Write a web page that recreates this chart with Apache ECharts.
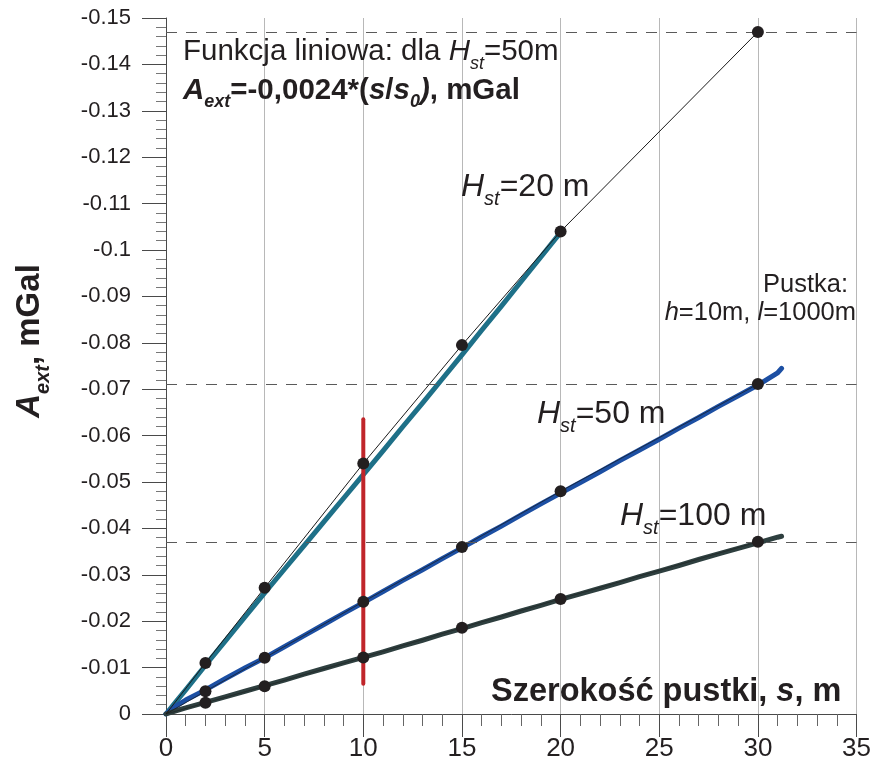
<!DOCTYPE html>
<html><head><meta charset="utf-8">
<script src="https://cdn.jsdelivr.net/npm/echarts@6/dist/echarts.min.js"></script>
<style>html,body{margin:0;padding:0;background:#fff}#c{width:874px;height:776px}</style>
</head><body><div id="c"></div>
<script>
// ---- data ----
const dotS = [2, 5, 10, 15, 20, 30];
const dotsH20 = [-0.011, -0.0272, -0.054, -0.0795, -0.104, -0.147];
const dotsH50 = [-0.0049, -0.0121, -0.0242, -0.036, -0.048, -0.0711];
const dotsH100 = [-0.0024, -0.006, -0.0122, -0.0186, -0.0248, -0.0371];

const curveS20 = [0, 0.5, 1, 2, 3, 4, 5, 6, 7, 8, 9, 10, 11, 12, 13, 14, 15, 16, 17, 18, 19, 20];
const curveH20 = [0, -0.0026, -0.0052, -0.0105, -0.0157, -0.0209, -0.0261, -0.0312, -0.0363, -0.0414, -0.0465, -0.0516, -0.0567, -0.0619, -0.067, -0.0722, -0.0774, -0.0827, -0.0879, -0.0932, -0.0985, -0.1038];

const curveS = [0, 0.5, 1, 2, 3, 4, 5, 6, 7, 8, 9, 10, 11, 12, 13, 14, 15, 16, 17, 18, 19, 20, 21, 22, 23, 24, 25, 26, 27, 28, 29, 30, 31, 31.2];
const curveH50 = [0, -0.0017, -0.003, -0.0052, -0.0076, -0.0099, -0.0121, -0.0145, -0.0169, -0.0193, -0.0217, -0.024, -0.0264, -0.0288, -0.0311, -0.0335, -0.0358, -0.0382, -0.0405, -0.0429, -0.0453, -0.0476, -0.0499, -0.0522, -0.0546, -0.0569, -0.0592, -0.0616, -0.0639, -0.0663, -0.0686, -0.0709, -0.0735, -0.0745];
const curveH100 = [0, -0.0007, -0.0013, -0.0025, -0.0037, -0.0049, -0.0061, -0.0073, -0.0086, -0.0098, -0.011, -0.0122, -0.0134, -0.0147, -0.0159, -0.0172, -0.0184, -0.0197, -0.0209, -0.0222, -0.0234, -0.0247, -0.0259, -0.0271, -0.0283, -0.0296, -0.0308, -0.032, -0.0333, -0.0345, -0.0357, -0.0369, -0.0381, -0.0383];

const refLevels = [-0.147, -0.071, -0.037];
const redS = [10, 10];
const redA = [-0.0065, -0.0635];

// ---- helpers ----
const zip = (xs, ys) => xs.map((x, i) => [x, ys[i]]);
const FF = "'Liberation Sans', Arial, sans-serif";
const TXT = '#231f20';

function richSet(size, lh) {
  const s = Math.round(size * 0.62);
  return {
    n: { fontSize: size, fontFamily: FF, fill: TXT, lineHeight: lh },
    i: { fontSize: size, fontFamily: FF, fill: TXT, fontStyle: 'italic', lineHeight: lh },
    sub: { fontSize: s, fontFamily: FF, fill: TXT, fontStyle: 'italic', lineHeight: s, verticalAlign: 'bottom' },
    b: { fontSize: size, fontFamily: FF, fill: TXT, fontWeight: 'bold', lineHeight: lh },
    bi: { fontSize: size, fontFamily: FF, fill: TXT, fontWeight: 'bold', fontStyle: 'italic', lineHeight: lh },
    bsub: { fontSize: s, fontFamily: FF, fill: TXT, fontWeight: 'bold', fontStyle: 'italic', lineHeight: s, verticalAlign: 'bottom' }
  };
}
function txt(x, y, text, size, align, extra) {
  return Object.assign({
    type: 'text', x: x, y: y, z: 100,
    style: { text: text, rich: richSet(size, Math.round(size * 1.4)), fontSize: size, fontFamily: FF, fill: TXT, align: align || 'left', verticalAlign: 'middle' }
  }, extra || {});
}

const chart = echarts.init(document.getElementById('c'), null, { renderer: 'canvas' });
const axisColor = '#4a4a4a';

chart.setOption({
  backgroundColor: '#fff',
  animation: false,
  grid: { left: 166, right: 15, top: 18, bottom: 62 },
  xAxis: {
    type: 'value', min: 0, max: 35, interval: 5,
    axisLine: { show: true, onZero: false, lineStyle: { color: axisColor, width: 1 } },
    axisTick: { show: true, length: 23, lineStyle: { color: axisColor } },
    minorTick: { show: true, splitNumber: 5, length: 12, lineStyle: { color: '#666' } },
    splitLine: { show: true, lineStyle: { color: '#b8b8b8', width: 1 } },
    axisLabel: { margin: 22, fontSize: 26, color: TXT, fontFamily: FF }
  },
  yAxis: {
    type: 'value', inverse: true, min: -0.15, max: 0, interval: 0.01,
    axisLine: { show: true, onZero: false, lineStyle: { color: axisColor, width: 1 } },
    axisTick: { show: true, length: 24, lineStyle: { color: axisColor } },
    minorTick: { show: true, splitNumber: 5, length: 10, lineStyle: { color: '#777' } },
    splitLine: { show: false },
    axisLabel: { margin: 35, fontSize: 22, color: TXT, fontFamily: FF,
      formatter: v => parseFloat(v.toFixed(4)).toString() }
  },
  series: [
    { type: 'line', name: 'H20', data: zip(curveS20, curveH20), showSymbol: false, symbol: 'none', z: 2,
      lineStyle: { color: '#1e7088', width: 5, cap: 'round', join: 'round' } },
    { type: 'line', name: 'H50', data: zip(curveS, curveH50), showSymbol: false, symbol: 'none', z: 2,
      lineStyle: { color: '#1c4fa3', width: 5, cap: 'round', join: 'round' } },
    { type: 'line', name: 'H100', data: zip(curveS, curveH100), showSymbol: false, symbol: 'none', z: 2,
      lineStyle: { color: '#2e3f3f', width: 5, cap: 'round', join: 'round' } },
    { type: 'line', name: 'thin20', data: [[0, 0]].concat(zip(dotS, dotsH20)), symbol: 'none', z: 3,
      lineStyle: { color: '#1a1a1a', width: 1 },
      markLine: { silent: true, symbol: 'none', precision: 4, label: { show: false },
        lineStyle: { color: '#5a5a5a', width: 1, type: [11, 9] },
        data: refLevels.map(v => [{ coord: [0, v] }, { coord: [35, v] }]) } },
    { type: 'line', name: 'thin50', data: [[0, 0]].concat(zip(dotS, dotsH50)), symbol: 'none', z: 3,
      lineStyle: { color: '#1a1a1a', width: 1, opacity: 0.7 } },
    { type: 'line', name: 'thin100', data: [[0, 0]].concat(zip(dotS, dotsH100)), symbol: 'none', z: 3,
      lineStyle: { color: '#1a1a1a', width: 1, opacity: 0.5 } },
    { type: 'line', name: 'red', data: zip(redS, redA), symbol: 'none', z: 4,
      lineStyle: { color: '#c0252a', width: 4, cap: 'round' } },
    { type: 'scatter', name: 'dots', z: 5, symbol: 'circle', symbolSize: 12,
      itemStyle: { color: '#231f20', opacity: 1 },
      data: zip(dotS, dotsH20).concat(zip(dotS, dotsH50), zip(dotS, dotsH100)) }
  ],
  graphic: [
    txt(183, 52, '{n|Funkcja liniowa: dla }{i|H}{sub|st}{n|=50m}', 29.5),
    txt(183, 91, '{bi|A}{bsub|ext}{b|=-0,0024*(}{bi|s}{b|/}{bi|s}{bsub|0}{bi|)}{b|, mGal}', 29.5),
    txt(461, 187, '{i|H}{sub|st}{n|=20 m}', 32),
    txt(537, 414, '{i|H}{sub|st}{n|=50 m}', 32),
    txt(620, 516, '{i|H}{sub|st}{n|=100 m}', 32),
    txt(848, 285, '{n|Pustka:}', 25.5, 'right'),
    txt(856, 313, '{i|h}{n|=10m, }{i|l}{n|=1000m}', 25.5, 'right'),
    txt(491, 692, '{b|Szerokość pustki, }{bi|s}{b|, m}', 32.5),
    txt(30, 341, '{bi|A}{bsub|ext}{b|, mGal}', 33, 'center', { rotation: Math.PI / 2 })
  ]
});
</script>
</body></html>
